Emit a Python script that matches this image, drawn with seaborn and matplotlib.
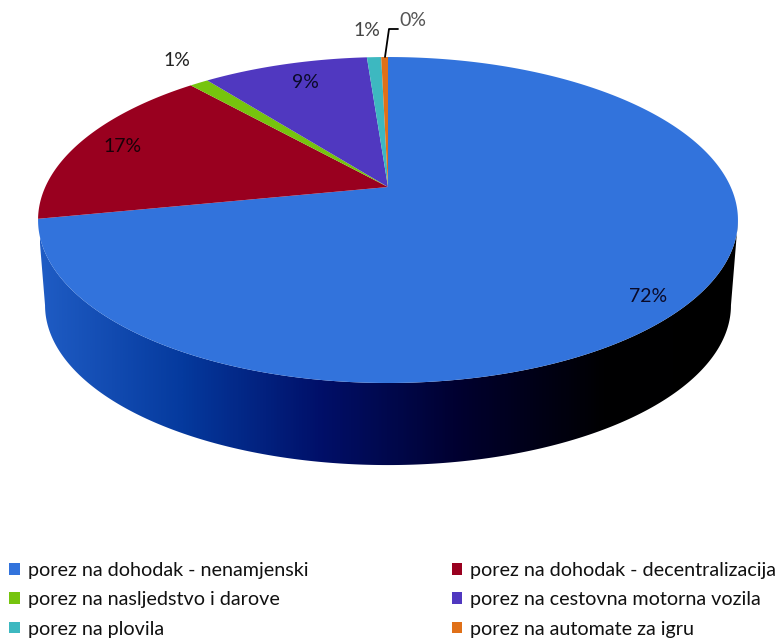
import numpy as np
import seaborn as sns
import matplotlib.pyplot as plt
from matplotlib.patches import Patch, Polygon

# shares, clockwise from 12 o'clock
categories = [
    "porez na dohodak - nenamjenski",
    "porez na dohodak - decentralizacija",
    "porez na nasljedstvo i darove",
    "porez na cestovna motorna vozila",
    "porez na plovila",
    "porez na automate za igru",
]
values = [71.9, 16.6, 1.06, 9.3, 0.8, 0.38]
colors = ["#3273DC", "#99001F", "#76C40E", "#5038C0", "#3DB8C0", "#E07018"]
wall_colors = ["#1F5CC4", "#053A9E", "#000F68", "#00002E", "#000002", "#000000"]

# label positions in picture pixels
label_xy = [(648, 296), (123, 147), (177, 61), (305, 83), (367, 31), (413, 20)]
label_color = ["#0A0A28", "#1A0008", "#222222", "#0A0A28", "#444444", "#555555"]

# perspective of the disc
apex_x, apex_y = 388, 187
persp = 0.2025
scale_x, scale_y = 342.7, 156.3
low_scale, low_drop = 0.98, 86

sns.set_theme(style="white")
plt.rcParams['font.family'] = ['Lato', 'DejaVu Sans']


def project(angle):
    # angle in degrees clockwise from top
    t = np.radians(angle)
    u, v = np.sin(t), np.cos(t)
    return scale_x * u / (1 + persp * v), -scale_y * v / (1 + persp * v)


fig = plt.figure(figsize=(7.79, 6.38), dpi=100)
ax = fig.add_axes([0, 0, 1, 1])

# side wall, between the front half of the top rim and the lower rim
tilt = np.degrees(np.arcsin(persp))
front = np.linspace(90 + tilt, 270 - tilt, 300)
xt, yt = project(front)
xl, yl = xt * low_scale, yt * low_scale + low_drop
wall_xy = np.column_stack([
    np.r_[xt, xl[::-1]] + apex_x,
    np.r_[yt, yl[::-1]] + apex_y,
])
wall = Polygon(wall_xy, closed=True, transform=ax.transData, facecolor="none", edgecolor="none")
ax.add_patch(wall)
cmap = sns.blend_palette(wall_colors, as_cmap=True)
gradient = np.linspace(0, 1, 512).reshape(1, -1)
img = ax.imshow(gradient, cmap=cmap, extent=(40, 745, 480, 200), aspect="auto")
img.set_clip_path(wall)

# top face
edges = np.r_[0, np.cumsum(values)] / np.sum(values) * 360
for start, stop, color in zip(edges[:-1], edges[1:], colors):
    theta = np.linspace(start, stop, max(int(stop - start) * 2, 4))
    xs, ys = project(theta)
    ax.fill(np.r_[0, xs] + apex_x, np.r_[0, ys] + apex_y, color=color, lw=0)

# percent labels
for value, (x, y), c in zip(values, label_xy, label_color):
    ax.text(x, y, f"{value:.0f}%", color=c, fontsize=14, ha="center", va="center")

# leader of the smallest slice
ax.plot([385, 389, 398], [57, 29, 29], color="black", lw=1.3)

ax.set_xlim(0, 779)
ax.set_ylim(638, 0)
ax.axis("off")

# matplotlib fills legend columns first, the reference reads row by row
order = [0, 2, 4, 1, 3, 5]
handles = [Patch(facecolor=colors[i], edgecolor="none") for i in order]
ax.legend(
    handles, [categories[i] for i in order], ncol=2, frameon=False, loc="upper left",
    bbox_to_anchor=(0.012, 0.119), fontsize=14.2, labelcolor="#111111",
    handlelength=0.55, handleheight=0.55, handletextpad=0.4,
    columnspacing=7.25, labelspacing=0.62, borderpad=0, borderaxespad=0,
)

fig.savefig("out.png", dpi=100)
